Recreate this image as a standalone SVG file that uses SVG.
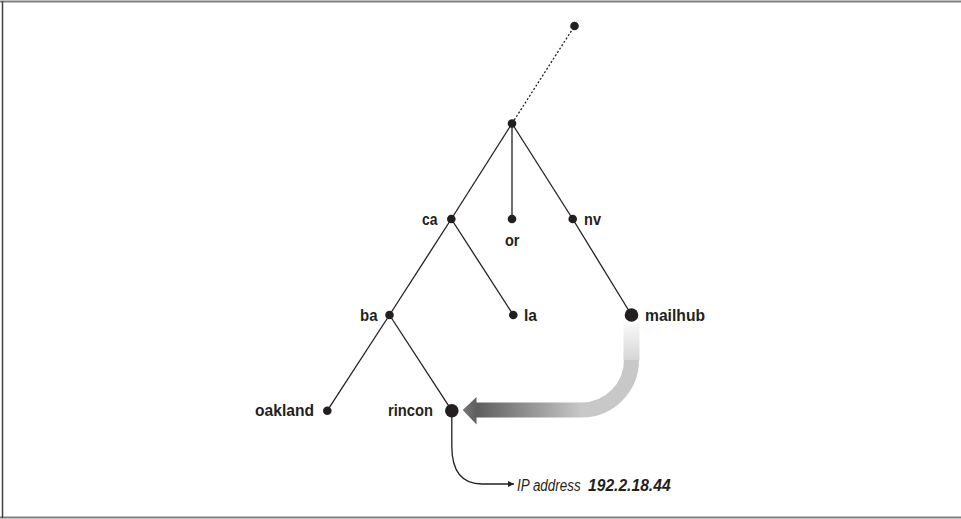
<svg xmlns="http://www.w3.org/2000/svg" width="961" height="519" viewBox="0 0 961 519">
<defs>
<style>
.edge{stroke:#231f20;stroke-width:1.3;fill:none}
.dot{fill:#231f20}
.lbl{font-family:"Liberation Sans",Arial,sans-serif;font-weight:bold;font-size:17px;fill:#231f20}
.ip{font-family:"Liberation Sans",Arial,sans-serif;font-style:italic;font-size:17px;fill:#231f20}
</style>
<marker id="ah" viewBox="0 0 10 10" refX="10" refY="5" markerWidth="8" markerHeight="6" markerUnits="userSpaceOnUse" orient="auto">
<path d="M0,0 L10,5 L0,10 Z" fill="#231f20"/>
</marker>
<linearGradient id="gv" x1="0" y1="322" x2="0" y2="360" gradientUnits="userSpaceOnUse">
<stop offset="0" stop-color="#fafafa"/>
<stop offset="1" stop-color="#d6d6d6"/>
</linearGradient>
<linearGradient id="gh" x1="463" y1="0" x2="582" y2="0" gradientUnits="userSpaceOnUse">
<stop offset="0" stop-color="#757575"/>
<stop offset="0.12" stop-color="#5e5e5e"/>
<stop offset="1" stop-color="#c8c8c8"/>
</linearGradient>
</defs>
<rect width="961" height="519" fill="#fff"/>
<g id="frame">
<line x1="0" y1="1.5" x2="961" y2="1.5" stroke="#808080" stroke-width="2"/>
<line x1="0" y1="517.5" x2="961" y2="517.5" stroke="#808080" stroke-width="2"/>
<line x1="2.5" y1="1" x2="2.5" y2="518" stroke="#404040" stroke-width="1.5"/>
</g>
<g id="connectors">
<line class="edge" x1="512" y1="123.5" x2="574.5" y2="26" stroke-dasharray="2,2"/>
<line class="edge" x1="512" y1="123.5" x2="451.3" y2="219"/>
<line class="edge" x1="512" y1="123.5" x2="512" y2="219"/>
<line class="edge" x1="512" y1="123.5" x2="572.7" y2="219"/>
<line class="edge" x1="451.3" y1="219" x2="389.5" y2="315"/>
<line class="edge" x1="451.3" y1="219" x2="513.3" y2="315"/>
<line class="edge" x1="572.7" y1="219" x2="631.5" y2="315"/>
<line class="edge" x1="389.5" y1="315" x2="327.3" y2="410.7"/>
<line class="edge" x1="389.5" y1="315" x2="451.8" y2="410.7"/>
<path class="edge" d="M451.8,417 L451.8,446 C451.8,472 462,484 482,484 L514,484" marker-end="url(#ah)"/>
<g id="resolve-arrow">
<rect x="623.5" y="322" width="16" height="38.5" fill="url(#gv)"/>
<path d="M631.5,360 A50,50 0 0 1 581.5,410" fill="none" stroke="#c8c8c8" stroke-width="15"/>
<path d="M582,402.5 L476.5,402.5 L476.5,397 L462.7,410 L476.5,424.5 L476.5,417.5 L582,417.5 Z" fill="url(#gh)"/>
</g>
</g>
<g id="node-top"><circle class="dot" cx="574.5" cy="26" r="4.3"/></g>
<g id="node-root"><circle class="dot" cx="512" cy="123.5" r="4.3"/></g>
<g id="node-ca"><circle class="dot" cx="451.3" cy="219" r="4.3"/><text class="lbl" x="422" y="225" textLength="15.5" lengthAdjust="spacingAndGlyphs">ca</text></g>
<g id="node-or"><circle class="dot" cx="512" cy="219" r="4.3"/><text class="lbl" x="505" y="246" textLength="14.5" lengthAdjust="spacingAndGlyphs">or</text></g>
<g id="node-nv"><circle class="dot" cx="572.7" cy="219" r="4.3"/><text class="lbl" x="584" y="225" textLength="17" lengthAdjust="spacingAndGlyphs">nv</text></g>
<g id="node-ba"><circle class="dot" cx="389.5" cy="315" r="4.3"/><text class="lbl" x="360" y="321" textLength="17.5" lengthAdjust="spacingAndGlyphs">ba</text></g>
<g id="node-la"><circle class="dot" cx="513.3" cy="315" r="4.3"/><text class="lbl" x="524" y="321" textLength="13" lengthAdjust="spacingAndGlyphs">la</text></g>
<g id="node-mailhub"><circle class="dot" cx="631.5" cy="315" r="6.8"/><text class="lbl" x="645" y="321" textLength="60" lengthAdjust="spacingAndGlyphs">mailhub</text></g>
<g id="node-oakland"><circle class="dot" cx="327.3" cy="410.7" r="4.3"/><text class="lbl" x="255" y="416" textLength="59" lengthAdjust="spacingAndGlyphs">oakland</text></g>
<g id="node-rincon"><circle class="dot" cx="451.8" cy="410.7" r="6.8"/><text class="lbl" x="388" y="416" textLength="45" lengthAdjust="spacingAndGlyphs">rincon</text></g>
<g id="ip-label">
<text class="ip" transform="translate(517,491) scale(0.79,1)">IP address</text>
<text class="ip" transform="translate(588,491) scale(0.92,1)" font-weight="bold">192.2.18.44</text>
</g>
</svg>
